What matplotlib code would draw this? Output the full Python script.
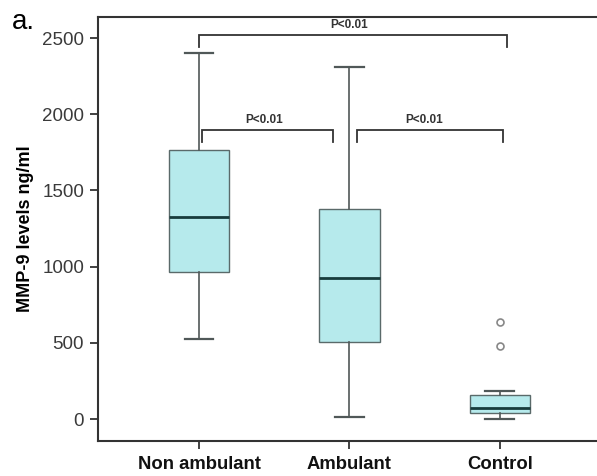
import matplotlib
matplotlib.use("Agg")
import matplotlib.pyplot as plt

plt.rcParams['font.family'] = ['Liberation Sans', 'DejaVu Sans']

categories = ["Non ambulant", "Ambulant", "Control"]
whisker_low = [525, 13, 0]
q1 = [965, 505, 39]
median = [1325, 925, 72]
q3 = [1765, 1378, 157]
whisker_high = [2402, 2310, 184]
outliers = [[], [], [636, 479]]

# bracket: x start, x end, height, label, label x
brackets = [(1.0, 3.05, 2520, "P<0.01", 2.0),
            (1.02, 1.89, 1896, "P<0.01", 1.43),
            (2.05, 3.02, 1896, "P<0.01", 2.5)]
yticks = [0, 500, 1000, 1500, 2000, 2500]

fig = plt.figure(figsize=(5.97, 4.76), dpi=100)
ax = fig.add_axes([98/597, 35/476, 1 - 98/597, (441 - 17)/476])

stats = []
for i, c in enumerate(categories):
    stats.append(dict(label=c, whislo=whisker_low[i], q1=q1[i], med=median[i],
                      q3=q3[i], whishi=whisker_high[i], fliers=outliers[i]))

ax.bxp(stats, positions=[1, 2, 3], widths=0.4, patch_artist=True, showfliers=True,
       boxprops=dict(facecolor='#b6eaec', edgecolor='#5a6a6a', linewidth=1.0),
       medianprops=dict(color='#173c3c', linewidth=2.0),
       whiskerprops=dict(color='#505858', linewidth=1.2),
       capprops=dict(color='#505858', linewidth=1.6),
       capwidths=0.19,
       flierprops=dict(marker='o', markerfacecolor='none', markeredgecolor='#888888',
                       markersize=5, markeredgewidth=1.2))

drop = 80
for x1, x2, y, txt, tx in brackets:
    ax.plot([x1, x1, x2, x2], [y - drop, y, y, y - drop], color='#333333', lw=1.3,
            solid_joinstyle='miter')
    ax.text(tx, y + 25, txt, ha='center', va='bottom',
            fontsize=8.5, fontweight='bold', color='#333333')

ax.set_xlim(0.327, 3.647)
ax.set_ylim(-144, 2638)
ax.set_yticks(yticks)
ax.set_yticklabels([str(v) for v in yticks], fontsize=13.5, color='#3a3a3a')
ax.set_xticks([1, 2, 3])
ax.set_xticklabels(categories, fontsize=13.3, fontweight='bold', color='#111111')
ax.tick_params(axis='both', direction='out', length=6, width=1.3, color='#333333')
ax.tick_params(axis='x', pad=5)
ax.tick_params(axis='y', pad=4)
for s in ['left', 'bottom', 'top']:
    ax.spines[s].set_linewidth(1.5)
    ax.spines[s].set_color('#333333')
ax.spines['right'].set_visible(False)

ax.set_ylabel("MMP-9 levels ng/ml", fontsize=13, fontweight='bold', labelpad=6)
fig.text(12/597, 1 - 22/476, "a.", fontsize=20, va='center', ha='left')

fig.savefig("out.png", dpi=100)
